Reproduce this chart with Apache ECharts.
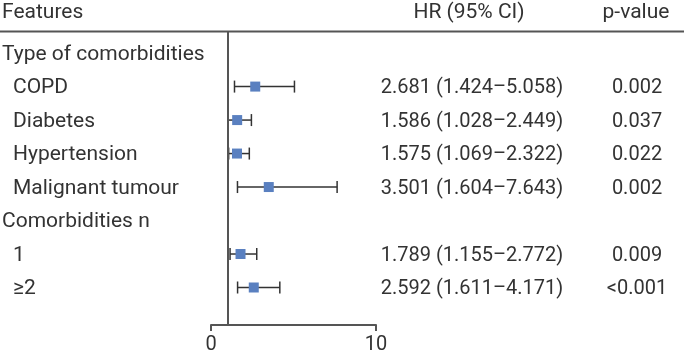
<!DOCTYPE html>
<html><head><meta charset="utf-8">
<script src="https://cdn.jsdelivr.net/npm/echarts@6/dist/echarts.min.js"></script>
<style>html,body{margin:0;padding:0;background:#fff}#c{width:684px;height:359px}</style>
</head><body><div id="c"></div>
<script>
// ---- data ----
const rowLabels = ['Type of comorbidities', 'COPD', 'Diabetes', 'Hypertension', 'Malignant tumour', 'Comorbidities n', '1', '\u22652'];
const isHeader = [true, false, false, false, false, true, false, false];
const hrValues = [null, 2.681, 1.586, 1.575, 3.501, null, 1.789, 2.592];
const ciLower = [null, 1.424, 1.028, 1.069, 1.604, null, 1.155, 1.611];
const ciUpper = [null, 5.058, 2.449, 2.322, 7.643, null, 2.772, 4.171];
const pValues = ['', '0.002', '0.037', '0.022', '0.002', '', '0.009', '<0.001'];
const xTickValues = [0, 10];
const columnHeaders = ['Features', 'HR (95% CI)', 'p-value'];
const refValue = 1;

// ---- chart ----
const FONT = 'Roboto, "DejaVu Sans", sans-serif';
const TEXT = '#333';
const LINE = '#555';
const chart = echarts.init(document.getElementById('c'), null, { renderer: 'canvas' });

const ciData = [];
const ptData = [];
rowLabels.forEach((_, i) => {
  if (hrValues[i] != null) {
    ciData.push([i, ciLower[i], ciUpper[i]]);
    ptData.push([hrValues[i], i]);
  }
});

chart.setOption({
  animation: false,
  grid: { left: 211, width: 165, top: 32, height: 293 },
  xAxis: {
    type: 'value', min: xTickValues[0], max: xTickValues[xTickValues.length - 1],
    interval: xTickValues[1] - xTickValues[0],
    axisLine: { onZero: false, lineStyle: { color: LINE, width: 2 } },
    axisTick: { show: true, length: 6, lineStyle: { color: LINE, width: 2 } },
    axisLabel: { fontSize: 20, color: TEXT, fontFamily: FONT, margin: 10 },
    splitLine: { show: false }
  },
  yAxis: { type: 'value', inverse: true, min: -0.63, max: 8.12, show: false },
  series: [
    {
      type: 'custom',
      data: ciData,
      encode: { x: [1, 2], y: 0 },
      renderItem: function (params, api) {
        const y = api.value(0);
        const a = api.coord([api.value(1), y]);
        const b = api.coord([api.value(2), y]);
        const h = 6;
        const st = { stroke: '#333', lineWidth: 1.5 };
        return {
          type: 'group', children: [
            { type: 'line', shape: { x1: a[0], y1: a[1], x2: b[0], y2: b[1] }, style: st },
            { type: 'line', shape: { x1: a[0], y1: a[1] - h, x2: a[0], y2: a[1] + h }, style: st },
            { type: 'line', shape: { x1: b[0], y1: b[1] - h, x2: b[0], y2: b[1] + h }, style: st }
          ]
        };
      },
      markLine: {
        silent: true, symbol: 'none', label: { show: false },
        lineStyle: { color: LINE, width: 2, type: 'solid' },
        data: [{ xAxis: refValue }]
      },
      z: 2
    },
    {
      type: 'scatter', symbol: 'rect', symbolSize: 10,
      itemStyle: { color: '#5a80c0', opacity: 1 },
      data: ptData, z: 3
    }
  ]
});

// ---- text table ----
const fmt = v => v.toFixed(3);
const g = [];
g.push({ type: 'line', shape: { x1: 0, y1: 31.5, x2: 684, y2: 31.5 }, style: { stroke: LINE, lineWidth: 2 } });
const labStyle = { fontSize: 21, fill: TEXT, fontFamily: FONT, verticalAlign: 'middle' };
const numStyle = { fontSize: 20, fill: TEXT, fontFamily: FONT, verticalAlign: 'middle' };
g.push({ type: 'text', x: 2, y: 13, style: Object.assign({ text: columnHeaders[0], align: 'left' }, labStyle) });
g.push({ type: 'text', x: 469, y: 13, style: Object.assign({ text: columnHeaders[1], align: 'center' }, labStyle) });
g.push({ type: 'text', x: 636, y: 13, style: Object.assign({ text: columnHeaders[2], align: 'center' }, labStyle) });
rowLabels.forEach((lab, i) => {
  const y = chart.convertToPixel({ gridIndex: 0 }, [0, i])[1] + 1.5;
  g.push({ type: 'text', x: isHeader[i] ? 2 : 13, y: y, style: Object.assign({ text: lab, align: 'left' }, labStyle) });
  if (hrValues[i] != null) {
    g.push({ type: 'text', x: 472, y: y, style: Object.assign({ text: fmt(hrValues[i]) + ' (' + fmt(ciLower[i]) + '\u2013' + fmt(ciUpper[i]) + ')', align: 'center' }, numStyle) });
    g.push({ type: 'text', x: 637, y: y, style: Object.assign({ text: pValues[i], align: 'center' }, numStyle) });
  }
});
chart.setOption({ graphic: g });
</script>
</body></html>
